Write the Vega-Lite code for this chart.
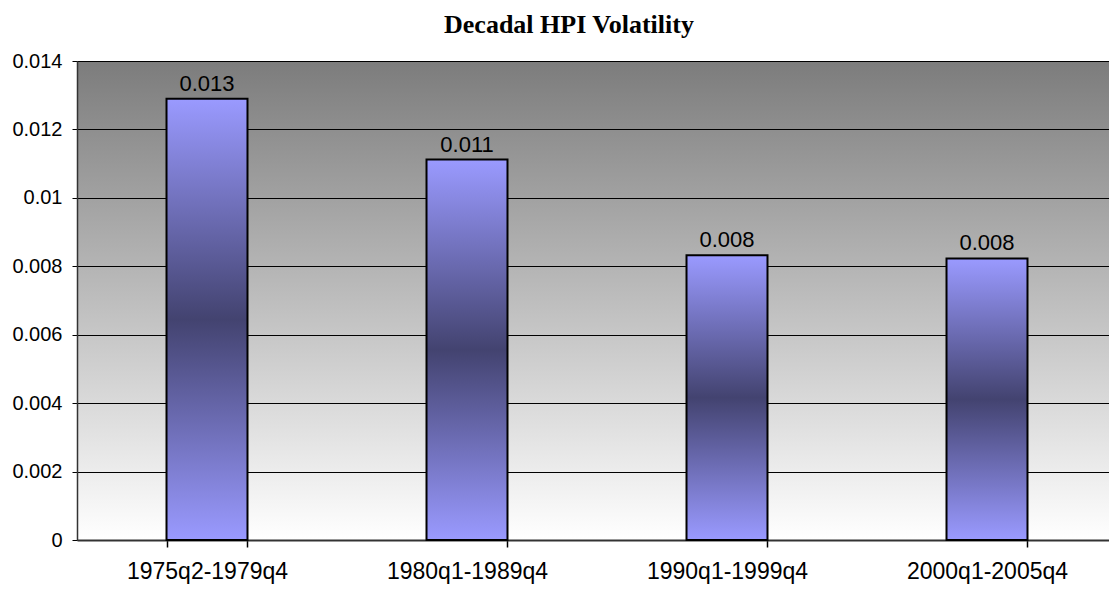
{
  "$schema": "https://vega.github.io/schema/vega-lite/v6.json",
  "autosize": {"type": "none"},
  "padding": {"left": 77, "top": 61, "right": 0, "bottom": 50},
  "width": 1032,
  "height": 479,
  "background": "white",
  "title": {
    "text": "Decadal HPI Volatility",
    "font": "Liberation Serif",
    "fontSize": 26,
    "fontWeight": "bold",
    "color": "black",
    "anchor": "middle",
    "baseline": "alphabetic",
    "dx": -24,
    "dy": 26,
    "offset": 18
  },
  "config": {
    "view": {
      "stroke": null,
      "fill": {
        "gradient": "linear",
        "x1": 0, "y1": 0, "x2": 0, "y2": 1,
        "stops": [
          {"offset": 0, "color": "#7c7c7c"},
          {"offset": 1, "color": "#ffffff"}
        ]
      }
    },
    "axis": {
      "labelFont": "Liberation Sans",
      "labelColor": "black",
      "domainColor": "black",
      "tickColor": "black",
      "gridColor": "black",
      "gridOpacity": 1,
      "gridWidth": 1
    }
  },
  "data": {
    "values": [
      {"period": "1975q2-1979q4", "vol": 0.0129, "label": "0.013"},
      {"period": "1980q1-1989q4", "vol": 0.01112, "label": "0.011"},
      {"period": "1990q1-1999q4", "vol": 0.00832, "label": "0.008"},
      {"period": "2000q1-2005q4", "vol": 0.00823, "label": "0.008"}
    ]
  },
  "encoding": {
    "x": {
      "field": "period",
      "type": "nominal",
      "sort": null,
      "scale": {"range": [0, 1040], "paddingInner": 0.6885, "paddingOuter": 0.34425},
      "axis": {
        "title": null,
        "labelAngle": 0,
        "labelFontSize": 23,
        "labelPadding": 13,
        "tickSize": 7,
        "tickBand": "extent",
        "tickWidth": 1.5,
        "domainWidth": 2,
        "domainColor": "#333333",
        "labelBaseline": "top"
      }
    },
    "y": {
      "field": "vol",
      "type": "quantitative",
      "scale": {"domain": [0, 0.014], "nice": false},
      "axis": {
        "title": null,
        "values": [0, 0.002, 0.004, 0.006, 0.008, 0.01, 0.012, 0.014],
        "format": ".3~f",
        "labelFontSize": 20,
        "labelPadding": 10,
        "tickSize": 5,
        "grid": true,
        "domainWidth": 1.5,
        "domainColor": "#333333"
      }
    }
  },
  "layer": [
    {
      "mark": {
        "type": "bar",
        "stroke": "black",
        "strokeWidth": 2,
        "fill": {
          "gradient": "linear",
          "x1": 0, "y1": 0, "x2": 0, "y2": 1,
          "stops": [
            {"offset": 0, "color": "#9a9aff"},
            {"offset": 0.5, "color": "#434370"},
            {"offset": 1, "color": "#9a9aff"}
          ]
        }
      }
    },
    {
      "mark": {
        "type": "text",
        "font": "Liberation Sans",
        "fontSize": 22,
        "color": "black",
        "baseline": "alphabetic",
        "dy": -8
      },
      "encoding": {
        "text": {"field": "label"}
      }
    }
  ]
}
